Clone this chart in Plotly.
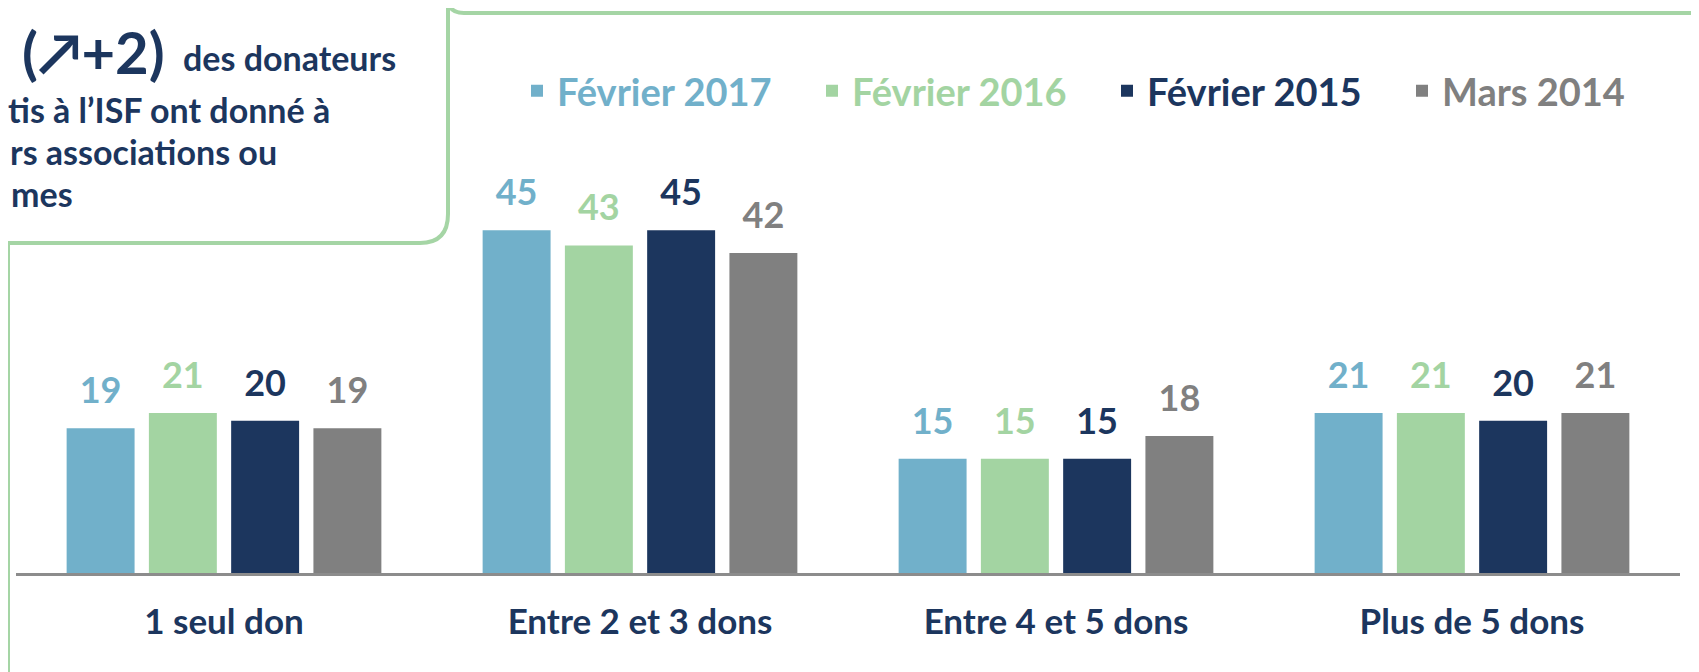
import plotly.graph_objects as go

categories = ["1 seul don", "Entre 2 et 3 dons", "Entre 4 et 5 dons", "Plus de 5 dons"]
series_names = ["Février 2017", "Février 2016", "Février 2015", "Mars 2014"]
fev_2017 = [19, 45, 15, 21]
fev_2016 = [21, 43, 15, 21]
fev_2015 = [20, 45, 15, 20]
mars_2014 = [19, 42, 18, 21]
series_values = [fev_2017, fev_2016, fev_2015, mars_2014]
colors = ["#71B0CA", "#A3D4A2", "#1C365E", "#808080"]

box_line1_big = "(↗+2)"
box_line1_small = "des donateurs"
box_lines = ["tis à l’ISF ont donné à", "rs associations ou", "mes"]

W, H = 1699, 672
OFF = 8  # page body margin offset
# target plot area on screen: x 16..1680, y 116..573
ML, MT = 16 - OFF, 116 - OFF
PW, PH = 1664, 457
MR = W - ML - PW
MB = H - MT - PH
FONT = "Lato"
NAVY = "#1C365E"
FRAME = "#A5D5A5"


def px(x):
    return (x - OFF - ML) / PW


def py(y):
    return (MT + PH - (y - OFF)) / PH


fig = go.Figure()
for i, (name, vals, col) in enumerate(zip(series_names, series_values, colors)):
    fig.add_trace(go.Bar(
        x=categories, y=vals, name=f"<span style='color:{col}'>{name}</span>",
        marker=dict(color=col, line=dict(width=0)), offsetgroup=str(i),
        hoverinfo="skip",
    ))
for i, (vals, col) in enumerate(zip(series_values, colors)):
    fig.add_trace(go.Scatter(
        x=categories, y=vals, mode="markers+text", text=[str(v) for v in vals],
        textposition="top center", offsetgroup=str(i),
        marker=dict(size=24, color="rgba(0,0,0,0)"),
        textfont=dict(family=FONT, size=36, color=col, weight="bold"),
        showlegend=False, hoverinfo="skip", cliponaxis=False,
    ))

shapes = []
# frame top line
shapes.append(dict(type="path", xref="paper", yref="paper",
                   path=f"M {px(448)},{py(-2)} Q {px(448)},{py(13)} {px(464)},{py(13)} L {px(1720)},{py(13)}",
                   line=dict(color=FRAME, width=4)))
# frame left line
shapes.append(dict(type="line", xref="paper", yref="paper",
                   x0=px(8), x1=px(8), y0=py(240), y1=py(700),
                   line=dict(color=FRAME, width=4)))
# box
shapes.append(dict(type="path", xref="paper", yref="paper",
                   path=(f"M {px(-20)},{py(-20)} L {px(448)},{py(-20)} L {px(448)},{py(214)} "
                         f"Q {px(448)},{py(243)} {px(420)},{py(243)} L {px(-20)},{py(243)} Z"),
                   line=dict(color=FRAME, width=4), fillcolor="white"))

annotations = []
annotations.append(dict(xref="paper", yref="paper", x=px(20), y=py(52), xanchor="left", yanchor="middle",
                        showarrow=False, text=box_line1_big,
                        font=dict(family=FONT, size=58, color=NAVY, weight="bold")))
annotations.append(dict(xref="paper", yref="paper", x=px(181), y=py(58), xanchor="left", yanchor="middle",
                        showarrow=False, text=box_line1_small,
                        font=dict(family=FONT, size=34, color=NAVY, weight="bold")))
line_x = [6, 8, 9]
for k, line in enumerate(box_lines):
    annotations.append(dict(xref="paper", yref="paper", x=px(line_x[k]), y=py(110 + 41.5 * k),
                            xanchor="left", yanchor="middle", showarrow=False, text=line,
                            font=dict(family=FONT, size=34, color=NAVY, weight="bold")))

fig.update_layout(
    width=W, height=H, margin=dict(l=ML, r=MR, t=MT, b=MB, autoexpand=False),
    paper_bgcolor="white", plot_bgcolor="white",
    barmode="group", bargap=0.209, bargroupgap=0.174,
    scattermode="group", scattergap=0.209,
    showlegend=True,
    legend=dict(orientation="h", x=px(517), y=py(91), xanchor="left", yanchor="middle",
                font=dict(family=FONT, size=38, color=NAVY, weight="bold"),
                entrywidth=250, entrywidthmode="pixels", bgcolor="rgba(0,0,0,0)"),
    xaxis=dict(type="category", range=[-0.5, 3.5], showline=True, linecolor="#8C8C8C", linewidth=3,
               showgrid=False, ticks="", ticklabelstandoff=16,
               tickfont=dict(family=FONT, size=35, color=NAVY, weight="bold"), fixedrange=True),
    yaxis=dict(visible=False, range=[0, 60], fixedrange=True),
    shapes=shapes, annotations=annotations,
)

fig.write_html("out.html")
